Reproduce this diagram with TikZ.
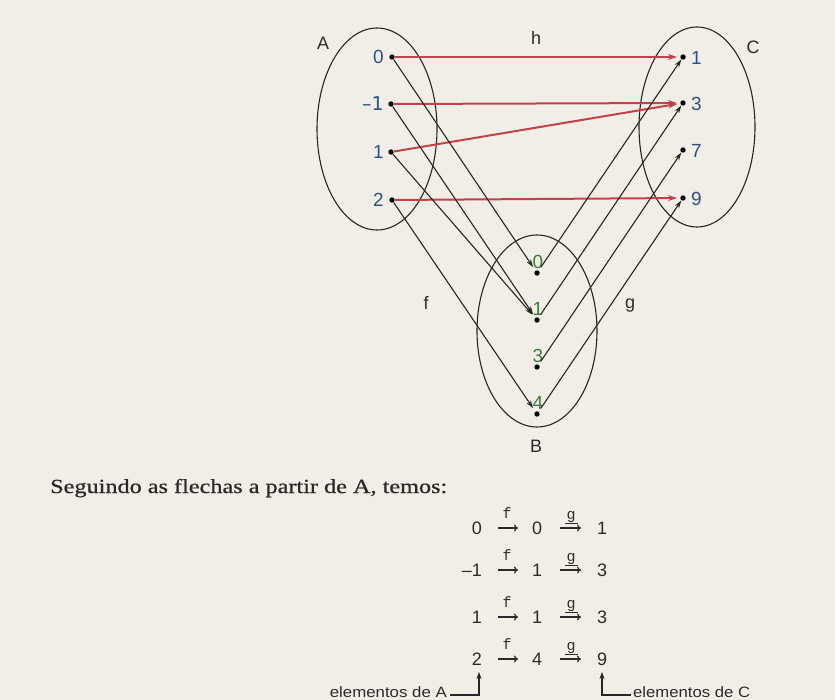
\documentclass[tikz,border=0pt]{standalone}
\usepackage{fontspec}
\setmainfont{Liberation Sans}
\newfontfamily\serifa[FakeBold=0.7]{Liberation Serif}
\newfontfamily\monoa{Liberation Mono}
\newfontfamily\symfont{DejaVu Sans}
\usetikzlibrary{arrows.meta}
\definecolor{bgc}{HTML}{F1EEE7}
\definecolor{redc}{HTML}{C4404A}
\definecolor{linec}{HTML}{262626}
\definecolor{bluec}{HTML}{2C4F86}
\definecolor{greenc}{HTML}{3E7B3E}
\definecolor{txtc}{HTML}{2A2A2A}
\tikzset{
  setell/.style={draw=linec, line width=1.1pt},
  pt/.style={fill=black},
  redarr/.style={draw=redc, line width=2pt, -{Stealth[length=9pt,width=6pt]}, shorten >=6pt, shorten <=3pt},
  blkarr/.style={draw=linec, line width=1.1pt, -{Stealth[length=8pt,width=5pt]}, shorten >=7pt, shorten <=3pt},
  gblk/.style={draw=linec, line width=1.1pt, -{Stealth[length=8pt,width=5pt]}, shorten >=3pt, shorten <=7pt},
  alab/.style={text=bluec, font=\fontsize{19}{19}\selectfont, inner sep=0pt},
  blab/.style={text=greenc, font=\fontsize{19}{19}\selectfont, inner sep=0pt},
  letter/.style={text=txtc, font=\fontsize{18}{18}\selectfont, inner sep=0pt},
  eq/.style={text=txtc, font=\fontsize{18}{18}\selectfont, inner sep=0pt},
  eqarr/.style={draw=txtc, line width=1.2pt, -{To[length=4pt,width=7pt]}},
  eqlab/.style={text=txtc, font=\monoa\fontsize{15}{15}\selectfont, inner sep=0pt},
  small/.style={text=txtc, font=\fontsize{15}{15}\selectfont, inner sep=0pt},
  hook/.style={draw=linec, line width=1.1pt},
}
\begin{document}
\begin{tikzpicture}[x=1pt,y=-1pt]
\fill[bgc] (0,0) rectangle (835,700);
\useasboundingbox (0,0) rectangle (835,700);
% ellipses
\draw[setell] (377,129) ellipse [x radius=60, y radius=101];
\draw[setell] (697,127) ellipse [x radius=58, y radius=100];
\draw[setell] (537,331) ellipse [x radius=60, y radius=96];
% set labels
\node[letter] (lA) at (323,43) {A};
\node[letter] (lC) at (753,47) {C};
\node[letter] (lB) at (536,446) {B};
\node[letter] (lh) at (536,38) {h};
\node[letter] (lf) at (426,303) {f};
\node[letter] (lg) at (630,306) {g};
% points A
\coordinate (a0) at (392,57);
\coordinate (am1) at (391,104);
\coordinate (a1) at (391,152);
\coordinate (a2) at (392,200);
% points C
\coordinate (c1) at (683,57);
\coordinate (c3) at (683,103);
\coordinate (c7) at (683,150);
\coordinate (c9) at (683,198);
% points B
\coordinate (b0) at (537,273);
\coordinate (b1) at (537,320);
\coordinate (b3) at (537,367);
\coordinate (b4) at (537,414);
\foreach \p in {a0,am1,a1,a2,c1,c3,c7,c9,b0,b1,b3,b4} \fill[pt] (\p) circle (2.7pt);
% labels A
\node[alab, anchor=east] (ta0) at (384,57) {0};
\node[alab, anchor=east] (tam1) at (384,104) {\symfont –1};
\node[alab, anchor=east] (ta1) at (384,152) {1};
\node[alab, anchor=east] (ta2) at (384,200) {2};
% labels C
\node[alab, anchor=west] (tc1) at (691,58) {1};
\node[alab, anchor=west] (tc3) at (691,104) {3};
\node[alab, anchor=west] (tc7) at (691,151) {7};
\node[alab, anchor=west] (tc9) at (691,199) {9};
% labels B
\node[blab] (tb0) at (538,262) {0};
\node[blab] (tb1) at (538,309) {1};
\node[blab] (tb3) at (538,356) {3};
\node[blab] (tb4) at (538,403) {4};
% h arrows
\draw[redarr] (a0) -- (c1);
\draw[redarr] (am1) -- (c3);
\draw[redarr] (a1) -- (c3);
\draw[redarr] (a2) -- (c9);
% f arrows
\draw[blkarr] (a0) -- (b0);
\draw[blkarr] (am1) -- (b1);
\draw[blkarr] (a1) -- (b1);
\draw[blkarr] (a2) -- (b4);
% g arrows
\draw[gblk] (b0) -- (c1);
\draw[gblk] (b1) -- (c3);
\draw[gblk] (b3) -- (c7);
\draw[gblk] (b4) -- (c9);
% text
\node[anchor=base west, inner sep=0pt, text=txtc] (intro) at (50,493)
  {\resizebox{397pt}{\height}{\serifa\fontsize{20}{20}\selectfont Seguindo as flechas a partir de A, temos:}};
% equations
\foreach \r/\ya/\yb/\yc/\yy in {1/0/0/1/528, 2/–1/1/3/570, 3/1/1/3/617, 4/2/4/9/659} {
  \node[eq, anchor=east] (e\r a) at (482,\yy) {\ya};
  \coordinate (e\r fs) at (498,\yy);
  \coordinate (e\r fe) at (518,\yy);
  \draw[eqarr] (e\r fs) -- (e\r fe);
  \node[eqlab] (e\r fl) at (507,\yy-15) {f};
  \node[eq] (e\r b) at (537,\yy) {\yb};
  \coordinate (e\r gs) at (560,\yy);
  \coordinate (e\r ge) at (581,\yy);
  \draw[eqarr] (e\r gs) -- (e\r ge);
  \node[eqlab] (e\r gl) at (571,\yy-11) {g};
  \coordinate (e\r gu1) at (565,\yy-4.5);
  \coordinate (e\r gu2) at (578,\yy-4.5);
  \draw[draw=txtc, line width=0.9pt] (e\r gu1) -- (e\r gu2);
  \node[eq] (e\r c) at (602,\yy) {\yc};
}
% hooks
\coordinate (hA1) at (450,695);
\coordinate (hA2) at (479,695);
\coordinate (hA3) at (479,672);
\coordinate (hC1) at (631,695);
\coordinate (hC2) at (602,695);
\coordinate (hC3) at (602,672);
\draw[hook, -{Stealth[length=7pt,width=5pt]}] (hA1) -- (hA2) -- (hA3);
\draw[hook, -{Stealth[length=7pt,width=5pt]}] (hC1) -- (hC2) -- (hC3);
\node[small, anchor=base east] (elA) at (447,697) {\resizebox{117pt}{\height}{elementos de A}};
\node[small, anchor=base west] (elC) at (633,697) {\resizebox{117pt}{\height}{elementos de C}};
\end{tikzpicture}
\end{document}
